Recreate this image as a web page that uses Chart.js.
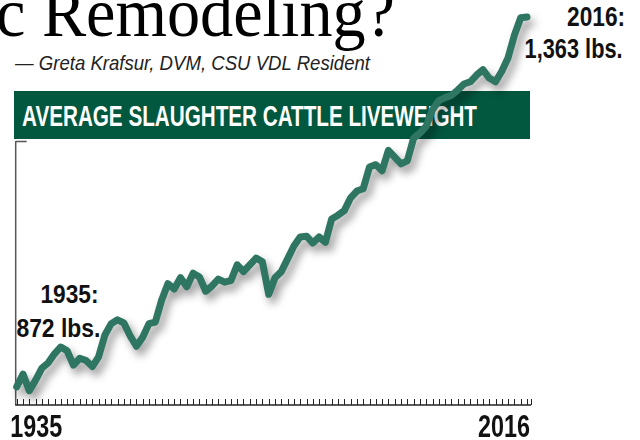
<!DOCTYPE html>
<html>
<head>
<meta charset="utf-8">
<script src="https://cdn.jsdelivr.net/npm/chart.js@4.4.1/dist/chart.umd.min.js"></script>
<style>
  html, body { margin: 0; padding: 0; background: #fff; }
  #wrap { position: relative; width: 640px; height: 440px; overflow: hidden; }
  #wrap canvas { position: absolute; left: 0; top: 0; }
  .t { position: absolute; white-space: nowrap; line-height: 1; }
  .cond { font-family: 'Liberation Sans Narrow', 'Arial Narrow', 'Liberation Sans', sans-serif; font-weight: bold; color: #111; }
  #head { font-family: 'Liberation Serif', 'DejaVu Serif', serif; color: #000; }
  #byline { font-family: 'Liberation Sans Narrow', 'Liberation Sans', sans-serif; font-style: italic; color: #222; }
  #banner { position: absolute; left: 14px; top: 91px; width: 516px; height: 48px; background: #02573f; }
  #title { color: #fff; }
</style>
</head>
<body>
<div id="wrap">
  <div id="banner"></div>
  <div class="t" id="head">c Remodeling?</div>
  <div class="t" id="byline">— Greta Krafsur, DVM, CSU VDL Resident</div>
  <div class="t cond" id="title">AVERAGE SLAUGHTER CATTLE LIVEWEIGHT</div>
  <div class="t cond" id="endYear">2016:</div>
  <div class="t cond" id="endVal">1,363 lbs.</div>
  <div class="t cond" id="startYear">1935:</div>
  <div class="t cond" id="startVal">872 lbs.</div>
  <canvas id="c" width="640" height="440"></canvas>
</div>
<script>
// --- dados ---
const years = [];
for (let y = 1935; y <= 2016; y++) years.push(y);

const weights = [
  872, 889, 867, 881, 897, 904, 916, 925, 920, 901,
  910, 907, 899, 912, 941, 956, 961, 957, 940, 926,
  938, 956, 958, 987, 1009, 1002, 1017, 1005, 1023, 1018,
  999, 1006, 1015, 1011, 1013, 1034, 1025, 1034, 1043, 1038,
  995, 1017, 1025, 1042, 1059, 1071, 1072, 1063, 1071, 1064,
  1095, 1100, 1106, 1123, 1132, 1135, 1164, 1167, 1159, 1186,
  1177, 1168, 1172, 1202, 1209, 1218, 1240, 1252, 1256, 1259,
  1266, 1274, 1277, 1286, 1293, 1282, 1277, 1291, 1309, 1339,
  1362, 1363
];

const shownYears = [1935, 2016];
const yMin = 848;
const yMax = 1363;

// --- textos (posicionados e comprimidos para a largura) ---
function place(id, o) {
  const el = document.getElementById(id);
  el.style.fontSize = o.fs + 'px';
  el.style.top = (o.base - o.asc * o.fs) + 'px';
  const w = el.getBoundingClientRect().width;
  const s = o.w / w;
  if (o.right !== undefined) {
    el.style.left = (o.right - w) + 'px';
    el.style.transformOrigin = 'right center';
  } else {
    el.style.left = o.left + 'px';
    el.style.transformOrigin = 'left center';
  }
  el.style.transform = 'scaleX(' + s + ')';
}
place('head',      { fs: 70, asc: 0.8375, base: 37,  left: -4, w: 399 });
place('byline',    { fs: 21, asc: 0.8465, base: 70,  left: 15, w: 355 });
place('title',     { fs: 29, asc: 0.8465, base: 127, left: 22, w: 455 });
place('endYear',   { fs: 27, asc: 0.8465, base: 27,  right: 625, w: 58 });
place('endVal',    { fs: 27, asc: 0.8465, base: 59,  right: 623, w: 98 });
place('startYear', { fs: 26, asc: 0.8465, base: 303, right: 98, w: 58 });
place('startVal',  { fs: 26, asc: 0.8465, base: 337, right: 100, w: 84 });

// --- eixos desenhados à mão com as escalas do Chart.js ---
const axesPlugin = {
  id: 'axes',
  beforeDatasetsDraw(chart) {
    const ctx = chart.ctx;
    const x = chart.scales.x;
    const area = chart.chartArea;
    ctx.save();
    // eixo y
    ctx.strokeStyle = '#555';
    ctx.lineWidth = 1.5;
    ctx.beginPath();
    ctx.moveTo(area.left - 1, 141.5);
    ctx.lineTo(area.left + 10, 141.5);
    ctx.moveTo(area.left - 1, 141);
    ctx.lineTo(area.left - 1, area.bottom);
    ctx.stroke();
    // eixo x
    ctx.strokeStyle = '#222';
    ctx.beginPath();
    ctx.moveTo(area.left - 1.5, area.bottom);
    ctx.lineTo(area.right + 4, area.bottom);
    ctx.stroke();
    ctx.lineWidth = 1;
    ctx.beginPath();
    years.forEach((yr, i) => {
      const px = Math.round(x.getPixelForValue(i)) + 0.5;
      ctx.moveTo(px, area.bottom);
      ctx.lineTo(px, area.bottom - 6);
    });
    const endPx = Math.round(area.right + 3.5) + 0.5;
    ctx.moveTo(endPx, area.bottom);
    ctx.lineTo(endPx, area.bottom - 6);
    ctx.stroke();

    // rótulos 1935 / 2016 (fonte condensada)
    ctx.fillStyle = '#111';
    ctx.font = "bold 31px 'Liberation Sans', sans-serif";
    ctx.textBaseline = 'alphabetic';
    shownYears.forEach(yr => {
      const i = years.indexOf(yr);
      const px = x.getPixelForValue(i);
      const txt = String(yr);
      const w = ctx.measureText(txt).width;
      const s = 52 / w;
      const first = i === 0;
      ctx.save();
      ctx.translate(first ? px - 6.5 : px + 3, 437);
      ctx.scale(s, 1);
      ctx.textAlign = first ? 'left' : 'right';
      ctx.fillText(txt, 0, 0);
      ctx.restore();
    });
    ctx.restore();
  }
};

const shadowPlugin = {
  id: 'shadow',
  beforeDatasetDraw(chart) {
    const ctx = chart.ctx;
    ctx.save();
    ctx.shadowColor = 'rgba(0,0,0,0.4)';
    ctx.shadowBlur = 9;
    ctx.shadowOffsetX = 4;
    ctx.shadowOffsetY = 6;
  },
  afterDatasetDraw(chart) {
    chart.ctx.restore();
  }
};

new Chart(document.getElementById('c'), {
  type: 'line',
  data: {
    labels: years,
    datasets: [{
      data: weights,
      borderColor: '#2e7562',
      borderWidth: 7,
      pointRadius: 0,
      tension: 0,
      borderJoinStyle: 'round',
      borderCapStyle: 'round',
      clip: false
    }]
  },
  options: {
    responsive: false,
    animation: false,
    devicePixelRatio: 1,
    layout: { padding: { left: 16.7, right: 113, top: 17, bottom: 0 } },
    plugins: { legend: { display: false }, tooltip: { enabled: false } },
    scales: {
      x: {
        type: 'category',
        offset: false,
        grid: { display: false, drawTicks: false },
        border: { display: false },
        ticks: { display: false, autoSkip: false },
        afterFit: s => { s.height = 35; }
      },
      y: { display: false, min: yMin, max: yMax }
    }
  },
  plugins: [axesPlugin, shadowPlugin]
});
</script>
</body>
</html>
